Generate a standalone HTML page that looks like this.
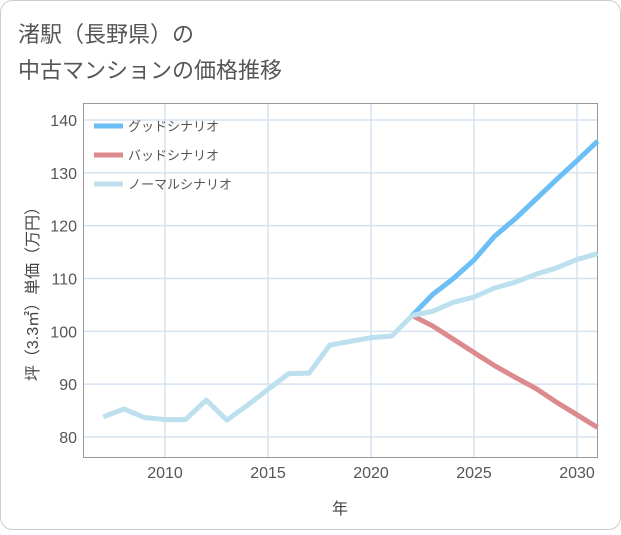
<!DOCTYPE html>
<html><head><meta charset="utf-8"><style>
body{margin:0;background:#fff;font-family:"Liberation Sans","Noto Sans CJK JP",sans-serif}
</style></head><body>
<svg width="621" height="530" xmlns="http://www.w3.org/2000/svg" font-family="Liberation Sans, Noto Sans CJK JP, sans-serif">
<rect x="0.5" y="0.5" width="620" height="529" rx="12" fill="#fff" stroke="#ccc"/>
<text x="18" y="42" font-size="22" fill="#555">渚駅（長野県）の</text>
<text x="18" y="78" font-size="22" fill="#555">中古マンションの価格推移</text>
<g id="grid"></g>
<rect x="83.5" y="103.5" width="514" height="354" fill="none" stroke="#999" stroke-width="1"/>
<g id="axes"></g>
<g id="series"></g>
<g>
<line x1="94" y1="126" x2="123" y2="126" stroke="#6cbff5" stroke-width="5"/>
<text x="128" y="131" font-size="13" fill="#555">グッドシナリオ</text>
<line x1="94" y1="155" x2="123" y2="155" stroke="#dd8a8f" stroke-width="5"/>
<text x="128" y="160" font-size="13" fill="#555">バッドシナリオ</text>
<line x1="94" y1="184" x2="123" y2="184" stroke="#bde0ee" stroke-width="5"/>
<text x="128" y="189" font-size="13" fill="#555">ノーマルシナリオ</text>
</g>
<text x="340" y="514" font-size="16" fill="#444" text-anchor="middle">年</text>
<text transform="translate(38,290) rotate(-90)" font-size="16" fill="#444" text-anchor="middle">坪（3.3㎡）単価（万円）</text>
</svg>
<script>
const histYears=[2007,2008,2009,2010,2011,2012,2013,2014,2015,2016,2017,2018,2019,2020,2021,2022];
const histValues=[83.8,85.3,83.7,83.3,83.3,87,83.2,86,89,92,92.1,97.4,98.1,98.8,99.1,103];
const projYears=[2022,2023,2024,2025,2026,2027,2028,2029,2030,2031];
const goodValues=[103,107,110,113.5,118,121.3,125,128.7,132.3,136];
const badValues=[103,101,98.5,96,93.5,91.3,89.2,86.6,84.2,81.8];
const normalValues=[103,103.8,105.5,106.5,108.2,109.3,110.8,112,113.6,114.7];
const xTicks=[2010,2015,2020,2025,2030];
const yTicks=[80,90,100,110,120,130,140];
const NS="http://www.w3.org/2000/svg";
const x=v=>165+(v-2010)*20.6;
const y=v=>437-(v-80)*(317/60);
const grid=document.getElementById('grid'),axes=document.getElementById('axes'),series=document.getElementById('series');
function mk(t,a,p){const e=document.createElementNS(NS,t);for(const k in a)e.setAttribute(k,a[k]);p.appendChild(e);return e;}
xTicks.forEach(t=>{
 const l=mk('line',{x1:x(t),x2:x(t),y1:104,y2:457,stroke:'#d5e3f0','stroke-width':1.5},grid);
 
 
 const tx=mk('text',{x:x(t),y:478,'font-size':16,fill:'#555','text-anchor':'middle'},axes);
 
 
 tx.textContent=t;
});
yTicks.forEach(t=>{
 const l=mk('line',{x1:84,x2:597,y1:y(t),y2:y(t),stroke:'#d5e3f0','stroke-width':1.5},grid);
 
 
 const tx=mk('text',{x:77,y:y(t)+6,'font-size':16,fill:'#555','text-anchor':'end'},axes);
 
 
 tx.textContent=t;
});
function line(xs,vs,c,n){
 const p=mk('polyline',{points:xs.map((a,i)=>x(a)+','+y(vs[i])).join(' '),fill:'none',stroke:c,'stroke-width':5,'stroke-linejoin':'round'},series);
 
 
}
line(projYears,goodValues,'#6cbff5','good-scenario-line');
line(projYears,badValues,'#dd8a8f','bad-scenario-line');
line(projYears,normalValues,'#bde0ee','normal-scenario-line');
line(histYears,histValues,'#bde0ee','historical-line');
</script>
</body></html>
